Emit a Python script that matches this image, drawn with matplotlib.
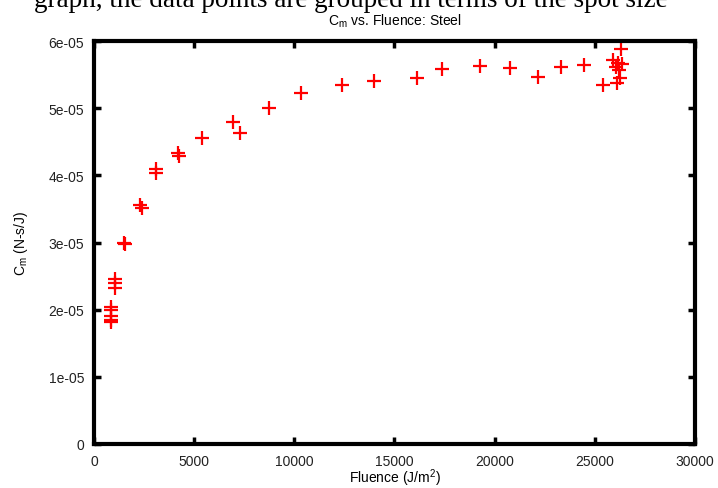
import matplotlib
matplotlib.use("Agg")
import matplotlib.pyplot as plt
from matplotlib.ticker import FuncFormatter

# Coupling coefficient vs. fluence, steel target
fluence = [830, 830, 850, 830, 850,
           1050, 1050, 1050,
           1480, 1550,
           2300, 2400,
           3100, 3100,
           4200, 4220,
           5400, 6935, 7265, 8715, 10335, 12385, 14000, 16100,
           17385, 19265, 20765, 22165, 23335, 24465, 25400,
           26300, 25900, 26150, 26350, 26050, 26200, 26250, 26100]
cm = [2.04e-5, 1.99e-5, 1.90e-5, 1.85e-5, 1.81e-5,
      2.45e-5, 2.39e-5, 2.32e-5,
      3.00e-5, 2.98e-5,
      3.56e-5, 3.52e-5,
      4.10e-5, 4.04e-5,
      4.33e-5, 4.29e-5,
      4.55e-5, 4.80e-5, 4.63e-5, 5.01e-5, 5.22e-5, 5.35e-5, 5.40e-5, 5.45e-5,
      5.58e-5, 5.63e-5, 5.60e-5, 5.46e-5, 5.61e-5, 5.65e-5, 5.34e-5,
      5.88e-5, 5.72e-5, 5.67e-5, 5.66e-5, 5.61e-5, 5.57e-5, 5.45e-5, 5.37e-5]

x_ticks = [0, 5000, 10000, 15000, 20000, 25000, 30000]
y_ticks = [0, 1e-5, 2e-5, 3e-5, 4e-5, 5e-5, 6e-5]

plt.rcParams['font.family'] = ['Liberation Sans', 'DejaVu Sans']

fig = plt.figure(figsize=(7.18, 4.89), dpi=100)
ax = fig.add_axes([0.1309, 0.090, 0.837, 0.824])

# line of body text running above the figure
fig.text(0.048, 0.999, "graph, the data points are grouped in terms of the spot size",
         family=['Liberation Serif', 'DejaVu Serif'], fontsize=19.5, va='center', ha='left')

ax.plot(fluence, cm, linestyle='none', marker='+', color='red',
        markersize=10.5, markeredgewidth=1.6)

ax.set_xlim(0, 30000)
ax.set_ylim(0, 6e-5)
ax.set_xticks(x_ticks)
ax.set_yticks(y_ticks)
ax.yaxis.set_major_formatter(FuncFormatter(lambda v, p: '%g' % v))
ax.xaxis.set_major_formatter(FuncFormatter(lambda v, p: '%d' % v))

for s in ax.spines.values():
    s.set_linewidth(3)
ax.tick_params(direction='in', length=5, width=2.5, top=True, right=True,
               labelsize=10, colors='black', labelcolor='#222222')
ax.tick_params(axis='x', pad=7)
ax.tick_params(axis='y', pad=7)

ax.set_title(r'C$_{\mathregular{m}}$ vs. Fluence: Steel', fontsize=10, pad=12)
ax.set_xlabel(r'Fluence (J/m$^{\mathregular{2}}$)', fontsize=10, labelpad=-1)
ax.set_ylabel(r'C$_{\mathregular{m}}$ (N-s/J)', fontsize=10, labelpad=13)

fig.savefig('out.png', dpi=100)
